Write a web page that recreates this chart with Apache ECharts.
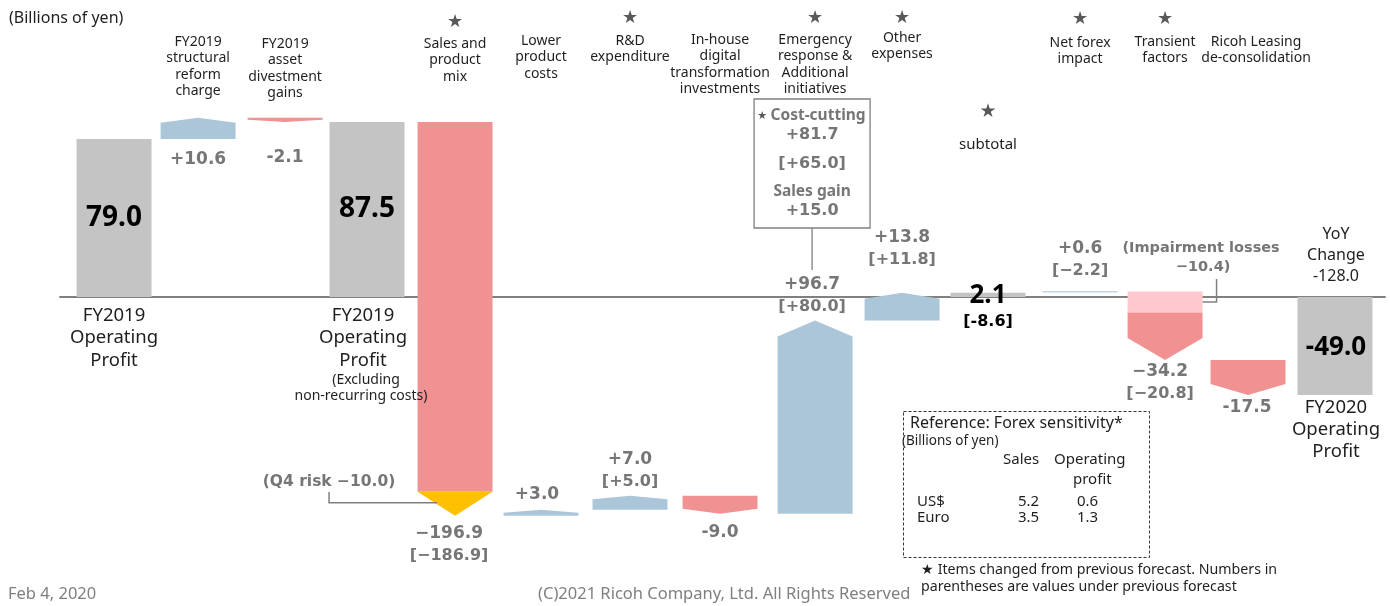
<!DOCTYPE html>
<html>
<head>
<meta charset="utf-8">
<script src="https://cdn.jsdelivr.net/npm/echarts@6/dist/echarts.min.js"></script>
<style>
  html, body { margin: 0; padding: 0; background: #ffffff; }
  #chart { width: 1390px; height: 606px; }
</style>
</head>
<body>
<div id="chart"></div>
<script>
// Operating profit bridge: FY2019 result to FY2020 forecast (billions of yen)
const categories = [
  'FY2019\nOperating\nProfit',
  'FY2019\nstructural\nreform\ncharge',
  'FY2019\nasset\ndivestment\ngains',
  'FY2019\nOperating\nProfit',
  'Sales and\nproduct\nmix',
  'Lower\nproduct\ncosts',
  'R&D\nexpenditure',
  'In-house\ndigital\ntransformation\ninvestments',
  'Emergency\nresponse &\nAdditional\ninitiatives',
  'Other\nexpenses',
  'subtotal',
  'Net forex\nimpact',
  'Transient\nfactors',
  'Ricoh Leasing\nde-consolidation',
  'FY2020\nOperating\nProfit'
];
const kinds   = ['total','delta','delta','total','delta','delta','delta','delta','delta','delta','total','delta','delta','delta','total'];
const values  = [79.0, 10.6, -2.1, 87.5, -196.9, 3.0, 7.0, -9.0, 96.7, 13.8, 2.1, 0.6, -34.2, -17.5, -49.0];
const prevForecast = [null, null, null, null, -186.9, null, 5.0, null, 80.0, 11.8, -8.6, -2.2, -20.8, null, null];
const changedItems = [false, false, false, false, true, false, true, false, true, true, true, true, true, false, false];
const q4Risk = -10.0;           // included in sales and product mix
const impairmentLosses = -10.4; // included in transient factors
const costCutting = 81.7, costCuttingPrev = 65.0, salesGain = 15.0;
const yoyChange = -128.0;
const forexHeader = ['Sales', 'Operating', 'profit'];
const forexCurrencies = ['US$', 'Euro'];
const forexSales = [5.2, 3.5];
const forexProfit = [0.6, 1.3];

// ---- layout & styling ----
// column slots along the x axis (slightly uneven spacing between columns)
const slot = [0, 0.964, 1.962, 2.902, 3.912, 4.898, 5.919, 6.952, 8.042, 9.040, 10.026, 11.082, 12.057, 13.009, 14.006];
const COL = {
  total: '#C4C4C4', up: '#ABC6D8', down: '#F09192', risk: '#FFC000',
  impair: '#FFC8CE', thin: '#BFD4E4', value: '#767676', text: '#1f1f1f',
  star: '#595959', line: '#808080'
};
const NUM = "'DejaVu Sans', Verdana, sans-serif";
const TXT = "'Noto Sans', 'DejaVu Sans', sans-serif";
const BIG = "'Noto Sans', 'Liberation Sans', sans-serif";
const headPx = [0, 5, 2.3, 0, 0, 3, 3.5, 5, 16, 6, 0, 0, 22, 11, 0];
const wideMinus = [false, false, false, false, true, false, false, false, false, false, false, true, true, false, false];

function fmt(v, wide) {
  if (v > 0) return '+' + v.toFixed(1);
  if (v < 0) return (wide ? '\u2212' : '-') + Math.abs(v).toFixed(1);
  return v.toFixed(1);
}

// running start / end of every step
const spans = [];
let run = 0;
values.forEach((v, i) => {
  if (kinds[i] === 'total') { spans.push([slot[i], 0, v, i]); run = v; }
  else { spans.push([slot[i], run, run + v, i]); run += v; }
});

function txt(x, y, text, o) {
  o = o || {};
  return {
    type: 'text', x: x, y: y, silent: true,
    style: {
      text: text, fill: o.fill || COL.text,
      fontSize: o.size || 14, fontFamily: o.family || TXT,
      fontWeight: o.weight || 'normal',
      align: o.align || 'center', verticalAlign: o.va || 'middle',
      lineHeight: o.lh || Math.round((o.size || 14) * 1.2)
    }
  };
}
function star(x, y, size) {
  return txt(x, y, '\u2605', { fill: COL.star, size: size || 18, family: NUM });
}

function renderBar(params, api) {
  const sx = api.value(0), from = api.value(1), to = api.value(2), i = api.value(3);
  const a = api.coord([sx, from]), b = api.coord([sx, to]);
  const w = api.size([1, 0])[0] * 0.86;
  const xc = a[0], xl = xc - w / 2, xr = xc + w / 2;
  const y0 = a[1], y1 = b[1];
  const kids = [];
  if (kinds[i] === 'total') {
    kids.push({ type: 'rect', shape: { x: xl, y: Math.min(y0, y1), width: w, height: Math.abs(y1 - y0) }, style: { fill: COL.total } });
    return { type: 'group', children: kids };
  }
  const fill = to > from ? COL.up : COL.down;
  const dir = y1 > y0 ? 1 : -1;
  if (Math.abs(y1 - y0) < 2) {
    kids.push({ type: 'rect', shape: { x: xl, y: Math.min(y0, y1) - 0.6, width: w, height: 1.4 }, style: { fill: COL.thin } });
    return { type: 'group', children: kids };
  }
  let bodyStart = y0;
  if (i === 12) {
    const yi = api.coord([sx, from + impairmentLosses])[1];
    kids.push({ type: 'rect', shape: { x: xl, y: y0, width: w, height: yi - y0 }, style: { fill: COL.impair } });
    const ym = (y0 + yi) / 2;
    kids.push({ type: 'polyline', shape: { points: [[xr, ym], [xr + 14, ym], [xr + 14, 279]] }, style: { stroke: COL.line, lineWidth: 1.5, fill: null } });
    bodyStart = yi;
  }
  if (i === 4) {
    const yr = api.coord([sx, to - q4Risk])[1];
    kids.push({ type: 'rect', shape: { x: xl, y: y0, width: w, height: yr - 4 - y0 }, style: { fill: fill } });
    kids.push({ type: 'polygon', shape: { points: [[xl, yr - 4], [xr, yr - 4], [xc, y1]] }, style: { fill: COL.risk } });
    const yk = yr + 7;
    kids.push({ type: 'polyline', shape: { points: [[xc - 126, 492], [xc - 126, yk], [xc - 18, yk]] }, style: { stroke: COL.line, lineWidth: 1.5, fill: null } });
    return { type: 'group', children: kids };
  }
  const h = headPx[i];
  kids.push({
    type: 'polygon',
    shape: { points: [[xl, bodyStart], [xr, bodyStart], [xr, y1 - dir * h], [xc, y1], [xl, y1 - dir * h]] },
    style: { fill: fill }
  });
  return { type: 'group', children: kids };
}

// text rows (pixels) for each column
const topRow = { 1: 42, 2: 44, 4: 44, 5: 41, 6: 41, 7: 40, 8: 40, 9: 38, 11: 43, 12: 42, 13: 42 };
const starRow = { 4: 22, 6: 18, 8: 18, 9: 18, 11: 19, 12: 19 };
const topDx = { 13: 8 };
const valueRow = { 1: 160, 2: 158, 4: 534, 5: 495, 6: 460, 7: 533, 8: 285, 9: 238, 11: 249, 12: 372, 13: 408 };
const valueDx = { 4: -6, 5: -4, 8: -3, 12: -5, 13: -1 };

function renderNotes(params, api) {
  const sx = api.value(0), i = api.value(2);
  const xc = api.coord([sx, 0])[0];
  const kids = [];
  const name = categories[i];
  // category names above the bars
  if (topRow[i] !== undefined) {
    kids.push(txt(xc + (topDx[i] || 0), topRow[i] - 8, name, { size: 14, lh: 16.3, va: 'top' }));
    if (changedItems[i]) kids.push(star(xc, starRow[i]));
  }
  // step values and previous-forecast values
  if (valueRow[i] !== undefined) {
    const x = xc + (valueDx[i] || 0);
    kids.push(txt(x, valueRow[i], fmt(values[i], wideMinus[i]), { fill: COL.value, size: 17, weight: 'bold', family: NUM }));
    if (prevForecast[i] !== null) {
      kids.push(txt(x, valueRow[i] + 22, '[' + fmt(prevForecast[i], wideMinus[i]) + ']', { fill: COL.value, size: 16, weight: 'bold', family: NUM }));
    }
  }
  if (kinds[i] === 'total') {
    const ym = (api.coord([sx, 0])[1] + api.coord([sx, values[i]])[1]) / 2;
    if (i === 0 || i === 3) {
      kids.push(txt(xc, ym, values[i].toFixed(1), { size: 28, weight: 'bold', family: BIG, fill: '#000' }));
      const x = i === 0 ? xc : xc - 4;
      kids.push(txt(x, 304, name, { size: 18.5, lh: 22.5, va: 'top' }));
    }
    if (i === 3) {
      kids.push(txt(xc - 1, 380, '(Excluding', { size: 14 }));
      kids.push(txt(xc - 6, 396, 'non-recurring costs)', { size: 14 }));
    }
    if (i === 10) {
      kids.push(star(xc, 112, 19));
      kids.push(txt(xc, 145, name, { size: 15 }));
      kids.push(txt(xc, 296, values[i].toFixed(1), { size: 26, weight: 'bold', family: BIG, fill: '#000' }));
      kids.push(txt(xc, 322, '[' + fmt(prevForecast[i], false) + ']', { size: 16, weight: 'bold', family: NUM, fill: '#000' }));
    }
    if (i === 14) {
      kids.push(txt(xc + 1, ym + 2, values[i].toFixed(1), { size: 26, weight: 'bold', family: BIG, fill: '#000' }));
      kids.push(txt(xc + 1, 224, 'YoY\nChange\n' + yoyChange.toFixed(1), { size: 16, lh: 21, va: 'top' }));
      kids.push(txt(xc + 1, 397, name, { size: 18.5, lh: 22, va: 'top' }));
    }
  }
  if (i === 4) {
    kids.push(txt(xc - 126, 482, '(Q4 risk ' + fmt(q4Risk, true) + ')', { fill: COL.value, size: 15.5, weight: 'bold', family: NUM }));
  }
  if (i === 12) {
    kids.push(txt(xc + 36, 248, '(Impairment losses', { fill: COL.value, size: 14.5, weight: 'bold', family: NUM }));
    kids.push(txt(xc + 38, 267, fmt(impairmentLosses, true) + ')', { fill: COL.value, size: 14.5, weight: 'bold', family: NUM }));
  }
  if (i === 8) {
    const bx = xc - 3;
    kids.push({ type: 'rect', shape: { x: bx - 58, y: 99, width: 116, height: 129 }, style: { fill: null, stroke: COL.line, lineWidth: 1.3 } });
    kids.push({ type: 'line', shape: { x1: bx, y1: 228, x2: bx, y2: 270 }, style: { stroke: COL.line, lineWidth: 1.3 } });
    kids.push(txt(bx - 50, 116, '\u2605', { fill: COL.star, size: 11, family: NUM }));
    kids.push(txt(bx + 6, 116, 'Cost-cutting', { fill: COL.value, size: 15.5, weight: 'bold', family: BIG }));
    kids.push(txt(bx, 135, fmt(costCutting, false), { fill: COL.value, size: 16, weight: 'bold', family: NUM }));
    kids.push(txt(bx, 164, '[' + fmt(costCuttingPrev, false) + ']', { fill: COL.value, size: 16, weight: 'bold', family: NUM }));
    kids.push(txt(bx, 192, 'Sales gain', { fill: COL.value, size: 15.5, weight: 'bold', family: BIG }));
    kids.push(txt(bx, 211, fmt(salesGain, false), { fill: COL.value, size: 16, weight: 'bold', family: NUM }));
  }
  return { type: 'group', children: kids };
}

// forex sensitivity table text
const F15 = "15px 'Noto Sans', sans-serif";
const forexLines = [
  { type: 'text', left: 910, top: 415, style: { text: 'Reference: Forex sensitivity*', fill: COL.text, font: "16px 'Noto Sans', sans-serif" } },
  { type: 'text', left: 902, top: 434, style: { text: '(Billions of yen)', fill: COL.text, font: "13.5px 'Noto Sans', sans-serif" } },
  { type: 'text', left: 1003, top: 452, style: { text: forexHeader[0], fill: COL.text, font: F15 } },
  { type: 'text', left: 1054, top: 452, style: { text: forexHeader[1], fill: COL.text, font: F15 } },
  { type: 'text', left: 1073, top: 472, style: { text: forexHeader[2], fill: COL.text, font: F15 } }
];
forexCurrencies.forEach((c, k) => {
  const top = 494 + k * 16;
  forexLines.push({ type: 'text', left: 917, top: top, style: { text: c, fill: COL.text, font: F15 } });
  forexLines.push({ type: 'text', left: 1018, top: top, style: { text: forexSales[k].toFixed(1), fill: COL.text, font: F15 } });
  forexLines.push({ type: 'text', left: 1077, top: top, style: { text: forexProfit[k].toFixed(1), fill: COL.text, font: F15 } });
});

const chart = echarts.init(document.getElementById('chart'), null, { renderer: 'canvas' });
chart.setOption({
  animation: false,
  backgroundColor: '#ffffff',
  grid: { left: 60, right: 5, top: 97, bottom: 9 },
  xAxis: {
    type: 'value', min: -0.62, max: 14.58,
    axisLine: { show: true, onZero: true, lineStyle: { color: COL.line, width: 2 } },
    axisTick: { show: false }, axisLabel: { show: false }, splitLine: { show: false }
  },
  yAxis: {
    type: 'value', min: -150, max: 100, show: false, splitLine: { show: false }
  },
  graphic: [
    { type: 'text', left: 9, top: 10, style: { text: '(Billions of yen)', fill: COL.text, font: "16px 'Noto Sans', sans-serif" } },
    { type: 'rect', left: 901, top: 409, shape: { width: 246, height: 146 }, style: { fill: null, stroke: '#333', lineWidth: 1, lineDash: [3, 2] } },
    ...forexLines,
    { type: 'text', left: 921, top: 561, style: { text: '\u2605 Items changed from previous forecast. Numbers in\nparentheses are values under previous forecast', fill: COL.text, font: "14.2px 'Noto Sans', sans-serif", lineHeight: 17 } },
    { type: 'text', left: 8, top: 586, style: { text: 'Feb 4, 2020', fill: '#7f7f7f', font: "16.5px 'Noto Sans', sans-serif" } },
    { type: 'text', left: 538, top: 586, style: { text: '(C)2021 Ricoh Company, Ltd. All Rights Reserved', fill: '#7f7f7f', font: "16.5px 'Noto Sans', sans-serif" } }
  ],
  series: [
    {
      type: 'custom', name: 'bridge', clip: false, silent: true,
      renderItem: renderBar,
      encode: { x: 0, y: [1, 2] },
      data: spans
    },
    {
      type: 'custom', name: 'notes', clip: false, silent: true, z: 5,
      renderItem: renderNotes,
      encode: { x: 0, y: 1 },
      data: categories.map((c, i) => [slot[i], 0, i])
    }
  ]
});
</script>
</body>
</html>
